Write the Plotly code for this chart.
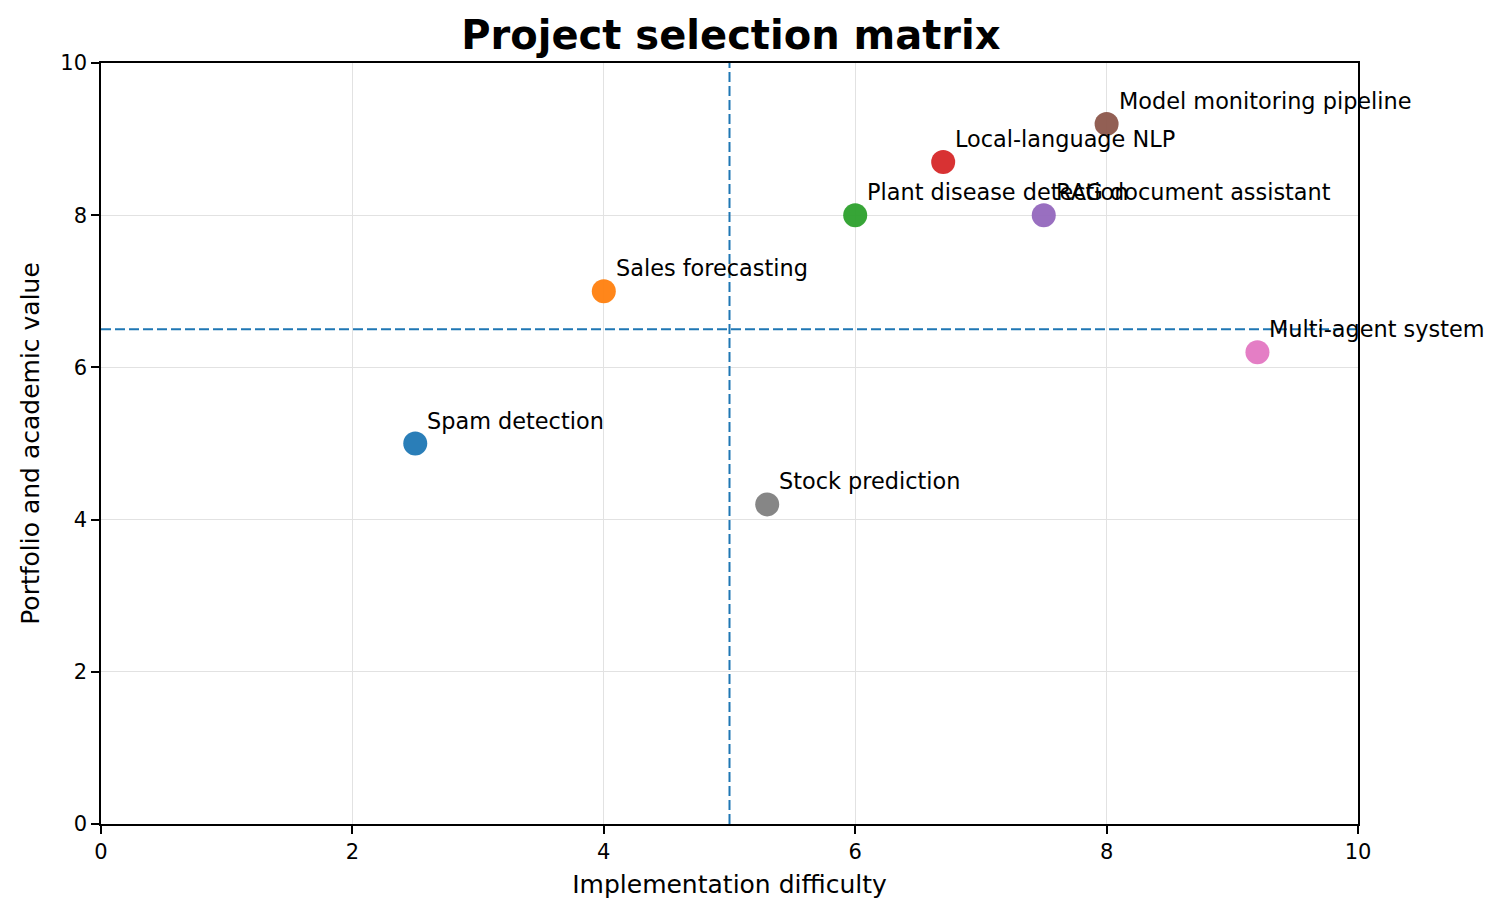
import plotly.graph_objects as go

projects = ["Spam detection", "Sales forecasting", "Plant disease detection", "Local-language NLP",
            "RAG document assistant", "Model monitoring pipeline", "Multi-agent system", "Stock prediction"]
difficulty = [2.5, 4.0, 6.0, 6.7, 7.5, 8.0, 9.2, 5.3]
value = [5.0, 7.0, 8.0, 8.7, 8.0, 9.2, 6.2, 4.2]
colors = ["#1f77b4", "#ff7f0e", "#2ca02c", "#d62728", "#9467bd", "#8c564b", "#e377c2", "#7f7f7f"]
x_threshold = 5
y_threshold = 6.5
tick_vals = [0, 2, 4, 6, 8, 10]

FONT = "DejaVu Sans"

fig = go.Figure()
for name, x, y, c in zip(projects, difficulty, value, colors):
    fig.add_trace(go.Scatter(x=[x], y=[y], mode="markers", name=name,
                             marker=dict(color=c, size=24, opacity=0.95, line=dict(width=0)),
                             showlegend=False))
    fig.add_annotation(x=x, y=y, text=name, showarrow=False, xanchor="left", yanchor="bottom",
                       xshift=10, yshift=8, font=dict(family=FONT, size=22.4, color="black"))

fig.add_shape(type="line", x0=x_threshold, x1=x_threshold, y0=0, y1=1, xref="x", yref="paper",
              line=dict(color="#1f77b4", width=2, dash="10px,4px"))
fig.add_shape(type="line", x0=0, x1=1, y0=y_threshold, y1=y_threshold, xref="paper", yref="y",
              line=dict(color="#1f77b4", width=2, dash="10px,4px"))

axis_common = dict(range=[0, 10], tickvals=tick_vals, showgrid=True, gridcolor="#e2e2e2", gridwidth=1.3,
                   zeroline=False, showline=True, linecolor="black", linewidth=1.6, mirror=True,
                   ticks="outside", ticklen=8, tickwidth=1.6, tickcolor="black",
                   tickfont=dict(family=FONT, size=21, color="black"))
fig.update_xaxes(**axis_common, title=dict(text="Implementation difficulty",
                 font=dict(family=FONT, size=25, color="black"), standoff=12))
fig.update_yaxes(**axis_common, title=dict(text="Portfolio and academic value",
                 font=dict(family=FONT, size=25, color="black"), standoff=14))

fig.update_layout(
    width=1504, height=917,
    margin=dict(l=101, r=146, t=63, b=93),
    plot_bgcolor="white", paper_bgcolor="white",
    title=dict(text="<b>Project selection matrix</b>", x=0.486, xanchor="center", y=0.962, yanchor="middle",
               font=dict(family=FONT, size=40, color="black")),
)

fig.write_html("out.html")
